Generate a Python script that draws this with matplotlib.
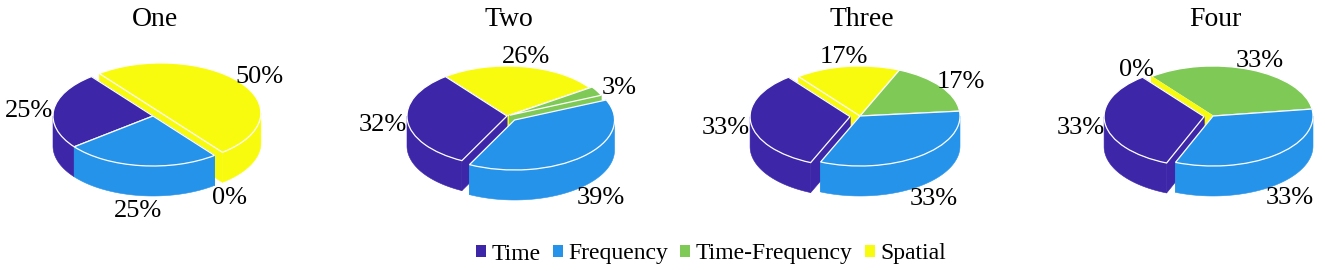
import numpy as np
import matplotlib
matplotlib.use("Agg")
import matplotlib.pyplot as plt
from matplotlib.patches import Wedge, Patch

plt.rcParams['font.family'] = ['Liberation Serif', 'DejaVu Serif']

titles = ["One", "Two", "Three", "Four"]
categories = ["Time", "Frequency", "Time-Frequency", "Spatial"]
one = [25, 25, 0, 50]
two = [32, 39, 3, 26]
three = [33, 33, 17, 17]
four = [33, 33, 33, 0]
all_values = [one, two, three, four]

colors = ["#3D26A8", "#2693EA", "#7FC957", "#F9FB0E"]

# how far each slice is pulled out, fraction of the radius
explodes = [[0, 0, 0, 0.1],
            [0, 0.11, 0.03, 0],
            [0.1, 0, 0, 0],
            [0.09, 0, 0, 0]]

W, H = 1325, 271
centers = [153, 507, 860, 1213]   # pie centre in pixels
CY = 116
RX, RY = 100, 50
DEPTH = 0.6
START = 128


def draw_slice(ax, t1, t2, color, off):
    ox, oy = off
    # radial walls, only seen through the gaps
    for t in (t1, t2):
        c, s = np.cos(np.radians(t)), np.sin(np.radians(t))
        ax.fill([ox, ox + c, ox + c, ox], [oy, oy + s, oy + s - DEPTH, oy - DEPTH],
                fc=color, ec=color, lw=0.4, zorder=ax.zo)
        ax.zo += 1
    # outer wall, front half only
    for k in (-1, 0, 1):
        a = max(t1, 180 + 360 * k)
        b = min(t2, 360 + 360 * k)
        if b > a:
            th = np.radians(np.linspace(a, b, 80))
            xs = ox + np.cos(th)
            ys = oy + np.sin(th)
            ax.fill(np.r_[xs, xs[::-1]], np.r_[ys, ys[::-1] - DEPTH],
                    fc=color, ec=color, lw=0.4, zorder=ax.zo)
            ax.zo += 1
    if t2 > t1:
        ax.add_patch(Wedge((ox, oy), 1, t1, t2, fc=color, ec="white", lw=0.9, zorder=ax.zo))
        ax.zo += 1


def draw_pie(ax, values, explode):
    ax.zo = 2
    total = sum(values)
    angles = START + np.r_[0, np.cumsum(values)] * 360 / total
    mids = (angles[:-1] + angles[1:]) / 2
    # back slices first
    order = np.argsort(-np.sin(np.radians(mids)))
    for i in order:
        d = np.array([np.cos(np.radians(mids[i])), np.sin(np.radians(mids[i]))])
        draw_slice(ax, angles[i], angles[i + 1], colors[i], d * explode[i])
    for i in range(len(values)):
        d = np.array([np.cos(np.radians(mids[i])), np.sin(np.radians(mids[i]))])
        x, y = d * (1.25 + explode[i])
        y -= 0.06
        if d[1] < -0.3:
            y -= DEPTH
        ax.text(x, y, "%d%%" % values[i], ha="center", va="center", fontsize=19,
                color="black", zorder=50)


fig = plt.figure(figsize=(W / 100, H / 100), dpi=100)
for n in range(4):
    left, right = centers[n] - 170, centers[n] + 170
    top, bottom = 0, 235
    ax = fig.add_axes([left / W, 1 - bottom / H, (right - left) / W, (bottom - top) / H])
    ax.set_xlim(-170 / RX, 170 / RX)
    ax.set_ylim((CY - bottom) / RY, (CY - top) / RY)
    ax.axis("off")
    draw_pie(ax, all_values[n], explodes[n])
    ax.text(0.02, (CY - 19) / RY, titles[n], ha="center", va="center", fontsize=20)

handles = [Patch(fc=c, ec="none", label=l) for c, l in zip(colors, categories)]
fig.legend(handles=handles, loc="center", bbox_to_anchor=(711 / W, 1 - 254 / H), ncol=4,
           frameon=False, fontsize=17, handlelength=0.42, handleheight=0.42,
           handletextpad=0.25, columnspacing=0.5, borderpad=0, borderaxespad=0)

fig.savefig("out.png", dpi=100)
